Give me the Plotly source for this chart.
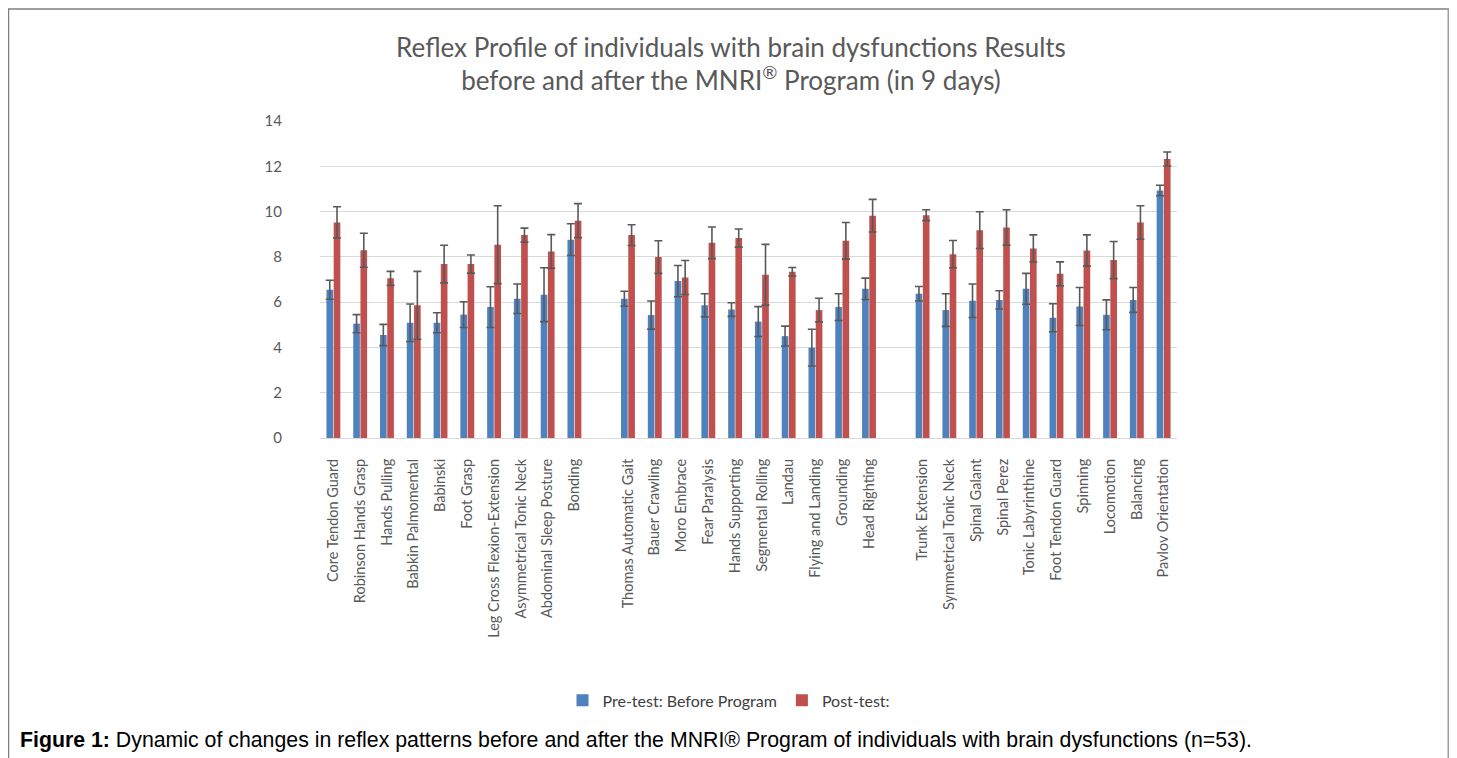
import plotly.graph_objects as go

categories = [
    "Core Tendon Guard", "Robinson Hands Grasp", "Hands Pulling", "Babkin Palmomental",
    "Babinski", "Foot Grasp", "Leg Cross Flexion-Extension", "Asymmetrical Tonic Neck",
    "Abdominal Sleep Posture", "Bonding", " ",
    "Thomas Automatic Gait", "Bauer Crawling", "Moro Embrace", "Fear Paralysis",
    "Hands Supporting", "Segmental Rolling", "Landau", "Flying and Landing",
    "Grounding", "Head Righting", "  ",
    "Trunk Extension", "Symmetrical Tonic Neck", "Spinal Galant", "Spinal Perez",
    "Tonic Labyrinthine", "Foot Tendon Guard", "Spinning", "Locomotion",
    "Balancing", "Pavlov Orientation",
]

pre_values = [6.55, 5.05, 4.55, 5.09, 5.09, 5.45, 5.78, 6.15, 6.33, 8.76, None,
              6.15, 5.43, 6.93, 5.86, 5.67, 5.14, 4.50, 3.99, 5.78, 6.59, None,
              6.37, 5.65, 6.06, 6.10, 6.59, 5.31, 5.81, 5.44, 6.10, 10.93]
pre_errors = [0.42, 0.40, 0.47, 0.83, 0.44, 0.57, 0.90, 0.65, 1.19, 0.70, None,
              0.33, 0.62, 0.69, 0.51, 0.30, 0.66, 0.44, 0.81, 0.59, 0.47, None,
              0.32, 0.72, 0.74, 0.40, 0.68, 0.62, 0.84, 0.66, 0.55, 0.23]
post_values = [9.52, 8.29, 7.05, 5.86, 7.68, 7.68, 8.54, 8.96, 8.24, 9.60, None,
               8.96, 7.99, 7.09, 8.62, 8.83, 7.21, 7.34, 5.65, 8.71, 9.82, None,
               9.84, 8.12, 9.18, 9.30, 8.37, 7.25, 8.28, 7.86, 9.52, 12.32]
post_errors = [0.69, 0.75, 0.31, 1.50, 0.83, 0.40, 1.72, 0.31, 0.74, 0.75, None,
               0.46, 0.72, 0.75, 0.70, 0.40, 1.34, 0.19, 0.52, 0.81, 0.72, None,
               0.24, 0.60, 0.81, 0.78, 0.60, 0.53, 0.69, 0.82, 0.74, 0.31]

y_ticks = [0, 2, 4, 6, 8, 10, 12, 14]

# the page body has an 8px margin: work in screenshot pixels and convert
OFF = 8
W, H = 1457 - OFF, 758 - OFF
PL, PR, PT, PB = 320, 1177, 121, 438.3  # plot area in screenshot pixels
ML, MR, MT, MB = PL - OFF, W - (PR - OFF), PT - OFF, H - (PB - OFF)
PW, PH = W - ML - MR, H - MT - MB


def px_x(x):
    return (x - OFF - ML) / PW


def px_y(y):
    return (H - MB - (y - OFF)) / PH


err_style = dict(type="data", thickness=1.6, width=4, color="#595959")

fig = go.Figure()
fig.add_trace(go.Bar(
    name="Pre-test: Before Program", x=categories, y=pre_values,
    marker=dict(color="#4F81BD", line=dict(width=0)),
    error_y=dict(array=pre_errors, **err_style),
))
fig.add_trace(go.Bar(
    name="Post-test:", x=categories, y=post_values,
    marker=dict(color="#C0504D", line=dict(width=0)),
    error_y=dict(array=post_errors, **err_style),
))

fig.update_layout(
    width=W, height=H,
    margin=dict(l=ML, r=MR, t=MT, b=MB, autoexpand=False),
    paper_bgcolor="white", plot_bgcolor="white",
    barmode="group", bargap=0.46, bargroupgap=0.08,
    font=dict(family="Lato, 'Open Sans', sans-serif", color="#595959", size=14),
    title=dict(
        text="Reflex Profile of individuals with brain dysfunctions Results<br>before and after the MNRI<sup>®</sup> Program (in 9 days)",
        x=px_x(731), xref="paper", xanchor="center",
        y=1 - (56.5 - OFF) / H, yref="container", yanchor="middle",
        font=dict(family="Lato, 'Open Sans', sans-serif", size=26, color="#595959"),
    ),
    showlegend=True,
    legend=dict(
        orientation="h", x=px_x(729), xanchor="center", y=px_y(701), yanchor="middle",
        font=dict(size=16, color="#404040"), itemwidth=30, traceorder="normal",
    ),
    xaxis=dict(
        type="category", tickangle=-90, showgrid=False,
        showline=True, linecolor="#D9D9D9", linewidth=1,
        ticks="", tickfont=dict(size=14.5, color="#595959"), ticklabelstandoff=14,
        categoryorder="array", categoryarray=categories,
    ),
    yaxis=dict(
        range=[0, 14], tickvals=y_ticks, showgrid=True, gridcolor="#D9D9D9",
        gridwidth=1, zeroline=False, showline=False, ticks="",
        tickfont=dict(size=15, color="#595959"), ticklabelstandoff=37,
    ),
)

# frame around the figure
fig.add_shape(type="line", xref="paper", yref="paper",
              x0=px_x(8), x1=px_x(1449), y0=px_y(9), y1=px_y(9),
              line=dict(color="#7F7F7F", width=1.5))
fig.add_shape(type="line", xref="paper", yref="paper",
              x0=px_x(8.5), x1=px_x(8.5), y0=px_y(9), y1=px_y(760),
              line=dict(color="#7F7F7F", width=1.5))
fig.add_shape(type="line", xref="paper", yref="paper",
              x0=px_x(1448.5), x1=px_x(1448.5), y0=px_y(9), y1=px_y(760),
              line=dict(color="#9F9F9F", width=2))

fig.add_annotation(
    xref="paper", yref="paper", x=px_x(18), y=px_y(741),
    xanchor="left", yanchor="middle", showarrow=False,
    text="<b>Figure 1:</b> Dynamic of changes in reflex patterns before and after the MNRI® Program of individuals with brain dysfunctions (n=53).",
    font=dict(family="'Liberation Sans', Arial, sans-serif", size=21.3, color="#000000"),
)

fig.write_html("out.html")
